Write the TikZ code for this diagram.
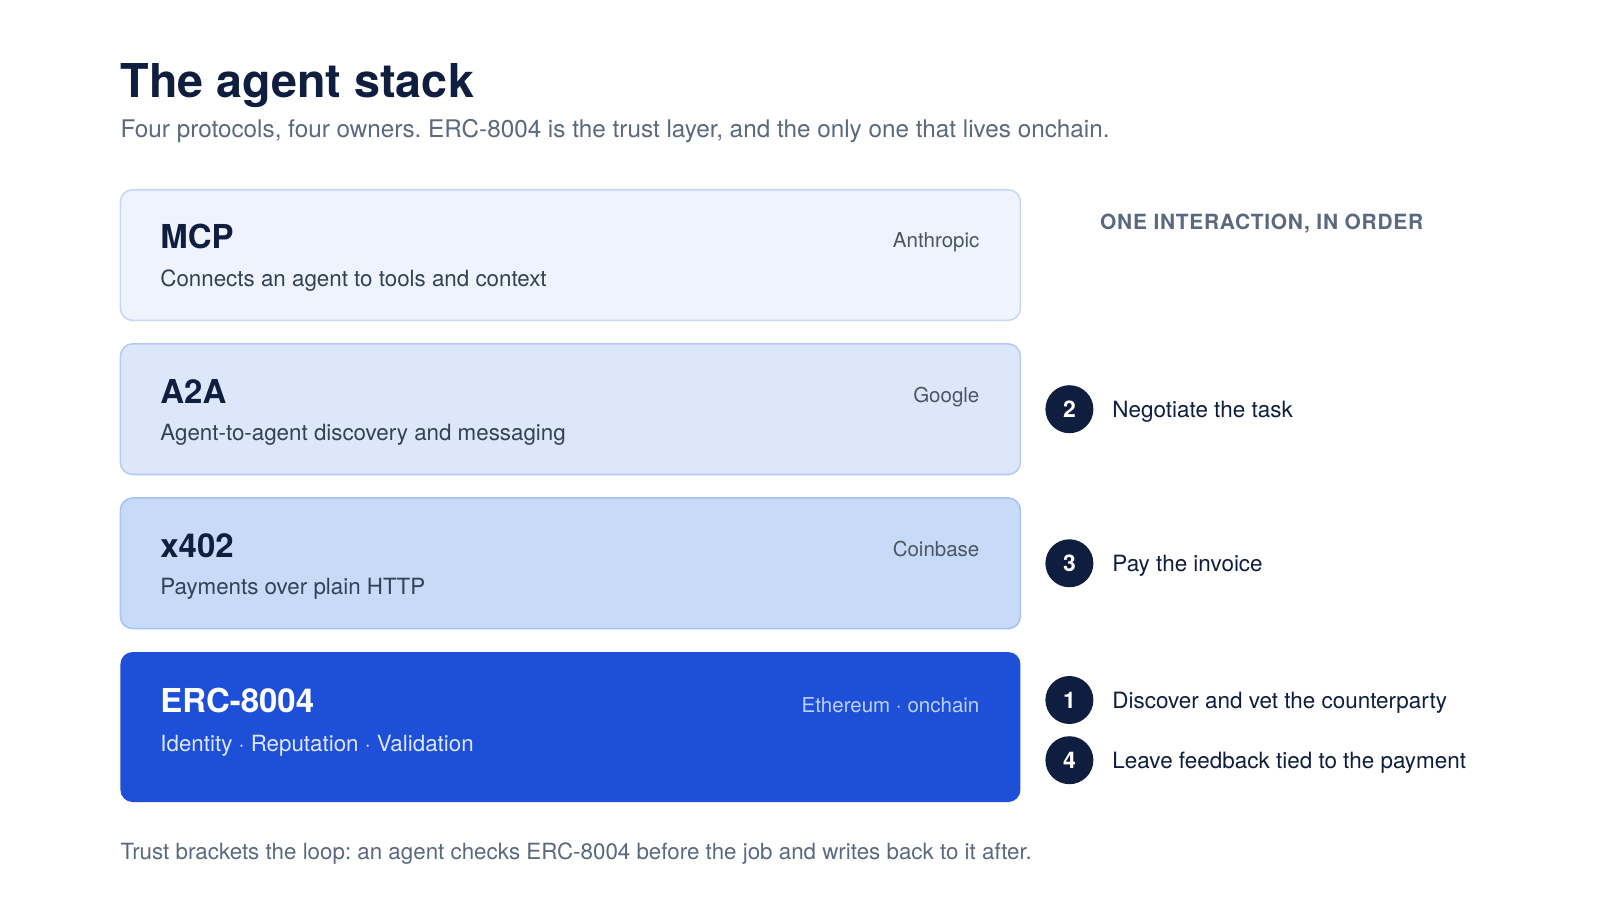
\documentclass[tikz,border=0pt]{standalone}
\usepackage{fontspec}
\setmainfont{TeX Gyre Heros}
\usepackage{tikz}
\usetikzlibrary{positioning}
\frenchspacing

\definecolor{navy}{HTML}{0F1D3F}
\definecolor{slate}{HTML}{5B6880}
\definecolor{desc}{HTML}{334155}
\definecolor{owner}{HTML}{4B5563}
\definecolor{fillA}{HTML}{EEF3FD}
\definecolor{lineA}{HTML}{C5D7F7}
\definecolor{fillB}{HTML}{DDE7FB}
\definecolor{lineB}{HTML}{B3CBF4}
\definecolor{fillC}{HTML}{C7DAF8}
\definecolor{lineC}{HTML}{A6C2F2}
\definecolor{ercblue}{HTML}{1E4FD8}
\definecolor{ercsub}{HTML}{DCE6FF}
\definecolor{ercown}{HTML}{BCD0FF}

\tikzset{
  layer/.style={rounded corners=12pt, line width=1.5pt, minimum width=882pt, inner sep=0pt},
  layername/.style={anchor=base west, inner sep=0pt, text=navy, font=\fontsize{32.3}{38}\selectfont\bfseries},
  layerdesc/.style={anchor=base west, inner sep=0pt, text=desc, font=\fontsize{21.9}{26}\selectfont},
  layerowner/.style={anchor=base east, inner sep=0pt, text=owner, font=\fontsize{20.1}{24}\selectfont},
  stepnum/.style={circle, fill=navy, minimum size=47pt, inner sep=0pt, text=white, font=\fontsize{22.5}{26}\selectfont\bfseries},
  steptext/.style={anchor=base west, inner sep=0pt, text=navy, font=\fontsize{22}{26}\selectfont}
}

\begin{document}
\begin{tikzpicture}[x=1pt,y=-1pt]
		\useasboundingbox[fill=white] (0,0) rectangle (1568,882);

		\node[anchor=base west, inner sep=0pt, text=navy, font=\fontsize{45.7}{54}\selectfont\bfseries] (title) at (118,96) {The agent stack};
		\node[anchor=base west, inner sep=0pt, text=slate, font=\fontsize{23.8}{28}\selectfont] (subtitle) at (118,135) {Four protocols, four owners. ERC-8004 is the trust layer, and the only one that lives onchain.};

		\node[layer, fill=fillA, draw=lineA, minimum height=128pt] (mcp) at (559,250) {};
		\node[layername] (mcpname) at (157,244) {MCP};
		\node[layerdesc] (mcpdesc) at (157,281) {Connects an agent to tools and context};
		\node[layerowner] (mcpowner) at (960,243) {Anthropic};

		\node[layer, fill=fillB, draw=lineB, minimum height=128pt] (a2a) at (559,401) {};
		\node[layername] (a2aname) at (157,395) {A2A};
		\node[layerdesc] (a2adesc) at (157,432) {Agent-to-agent discovery and messaging};
		\node[layerowner] (a2aowner) at (960,394) {Google};

		\node[layer, fill=fillC, draw=lineC, minimum height=128pt] (xpay) at (559,552) {};
		\node[layername] (xpayname) at (157,546) {x402};
		\node[layerdesc] (xpaydesc) at (157,583) {Payments over plain HTTP};
		\node[layerowner] (xpayowner) at (960,545) {Coinbase};

		\node[layer, fill=ercblue, minimum height=147pt] (erc) at (559,712.5) {};
		\node[layername, text=white] (ercname) at (157,698) {ERC-8004};
		\node[layerdesc, text=ercsub] (ercdesc) at (157,736) {Identity $\cdot$ Reputation $\cdot$ Validation};
		\node[layerowner, text=ercown] (ercowner) at (960,698) {Ethereum $\cdot$ onchain};

		\node[anchor=base west, inner sep=0pt, text=slate, font=\fontsize{20.5}{24}\selectfont\bfseries\addfontfeatures{LetterSpace=3.5}] (order) at (1078,225) {ONE INTERACTION, IN ORDER};

		\node[stepnum] (s2) at (1048,401) {2};
		\node[steptext] (t2) at (1090,409) {Negotiate the task};
		\node[stepnum] (s3) at (1048,552) {3};
		\node[steptext] (t3) at (1090,560) {Pay the invoice};
		\node[stepnum] (s1) at (1048,686) {1};
		\node[steptext] (t1) at (1090,694) {Discover and vet the counterparty};
		\node[stepnum] (s4) at (1048,745) {4};
		\node[steptext] (t4) at (1090,753) {Leave feedback tied to the payment};

		\node[anchor=base west, inner sep=0pt, text=slate, font=\fontsize{21.9}{26}\selectfont] (footer) at (118,842) {Trust brackets the loop: an agent checks ERC-8004 before the job and writes back to it after.};

	\end{tikzpicture}
\end{document}
